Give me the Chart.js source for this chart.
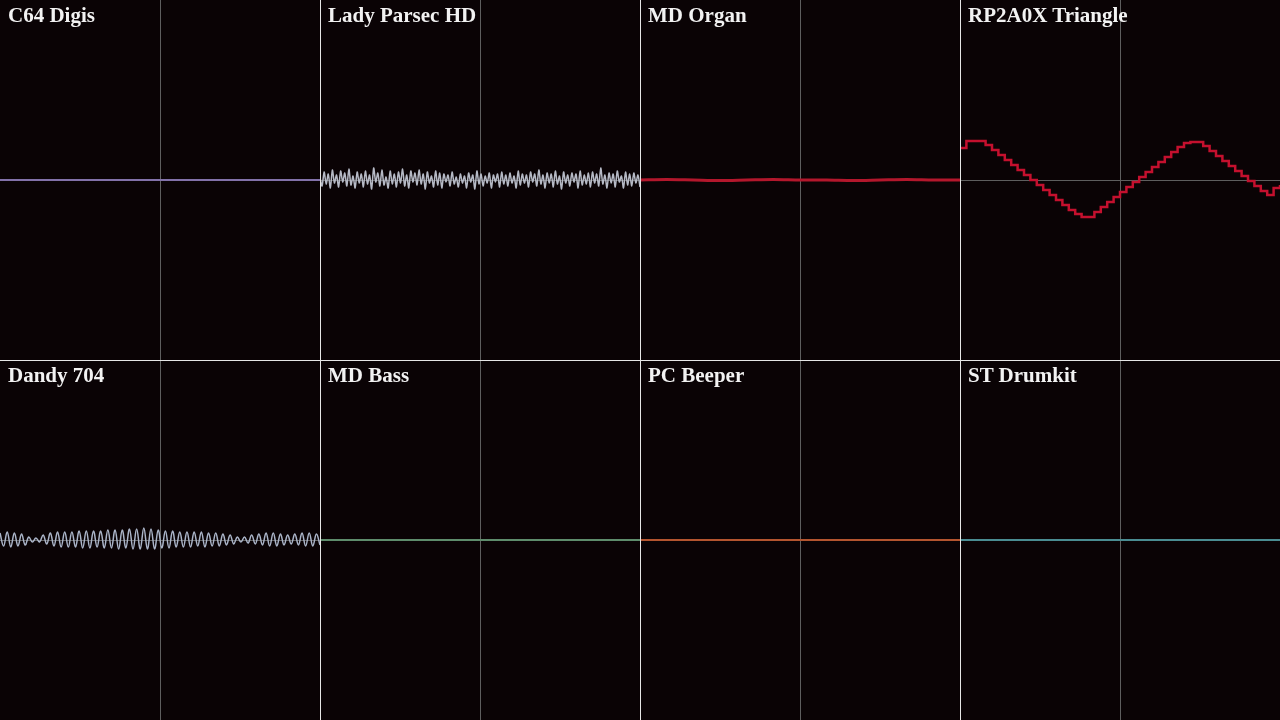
<!DOCTYPE html>
<html>
<head>
<meta charset="utf-8">
<script src="https://cdn.jsdelivr.net/npm/chart.js@4.4.1/dist/chart.umd.min.js"></script>
<style>
  html, body { margin: 0; padding: 0; background: #0a0305; }
  #scope { position: relative; width: 1280px; height: 720px; overflow: hidden; }
  .panel { position: absolute; width: 320px; height: 360px; }
  .panel canvas { display: block; }
  .title {
    position: absolute; left: 8px; top: 3px;
    font-family: "Liberation Serif", "DejaVu Serif", serif;
    font-weight: bold; font-size: 21px; color: #f2f2f2;
    pointer-events: none; z-index: 2;
  }
  .divider { position: absolute; background: #e6e6e6; z-index: 3; }
</style>
</head>
<body>
<div id="scope"></div>
<script>
// Títulos de cada canal
const channelNames = ['C64 Digis', 'Lady Parsec HD', 'MD Organ', 'RP2A0X Triangle',
  'Dandy 704', 'MD Bass', 'PC Beeper', 'ST Drumkit'];

// Colores de cada onda
const channelColors = ['#8272aa', '#b6bac6', '#b3172c', '#c4102e',
  '#aab4c8', '#5e8c6c', '#b4552f', '#4a8c92'];

// Muestras (desplazamiento vertical en px respecto al centro, positivo = arriba)
const c64Wave = [0, 0, 0, 0, 0, 0, 0, 0, 0];

const ladyWave = [2, -6, 8, -4, 6, -8, 10, -3, 5, -7, 9, -2, 7, -6, 11, -5, 4, -8, 8, -3,
  6, -7, 9, -4, 5, -9, 12, -2, 7, -6, 10, -5, 3, -8, 9, -4, 6, -7, 8, -3,
  11, -6, 5, -8, 9, -2, 7, -5, 10, -4, 6, -9, 8, -3, 4, -7, 9, -5, 7, -8,
  6, -2, 5, -6, 8, -4, 3, -7, 6, -3, 4, -8, 7, -2, 5, -9, 9, -4, 6, -6,
  4, -3, 7, -8, 5, -2, 6, -7, 8, -4, 5, -6, 7, -3, 4, -8, 9, -5, 6, -3,
  5, -7, 8, -2, 6, -6, 10, -4, 5, -8, 7, -3, 6, -7, 9, -4, 4, -9, 8, -3,
  5, -6, 7, -2, 6, -8, 9, -5, 5, -4, 7, -7, 8, -3, 6, -6, 12, -4, 5, -8,
  7, -3, 6, -7, 9, -2, 4, -8, 8, -5, 6, -6, 7, -3, 5, -7];

const organWave = [0, 0.5, 0, -0.5, 0, 0.5, 0, 0, -0.5, 0, 0.5, 0, 0];

const triangleWave = [32, 39, 39, 39, 35, 30, 25, 20, 15, 10, 5, 0, -5, -10, -15, -20, -25, -30, -34,
  -37, -37, -32, -27, -22, -17, -12, -7, -2, 3, 8, 13, 18, 23, 28, 33, 37,
  38, 38, 34, 29, 24, 19, 14, 9, 4, -1, -6, -11, -15, -8, -5];

const dandyWave = [7, -6, 8, -7, 7, -6, 6, -5, 3, -2, 2, -2, 5, -4, 7, -6, 8, -7, 8, -7,
  8, -7, 9, -8, 9, -8, 9, -7, 9, -8, 10, -8, 10, -9, 10, -8, 11, -9, 11, -9,
  12, -9, 11, -9, 10, -8, 9, -8, 9, -7, 8, -7, 8, -7, 8, -6, 8, -7, 7, -6,
  7, -6, 6, -5, 5, -4, 3, -2, 3, -3, 5, -4, 6, -5, 7, -6, 7, -6, 6, -5,
  5, -4, 6, -5, 7, -6, 7, -6, 6, -5];

const bassWave = [0, 0, 0, 0, 0, 0, 0, 0, 0];
const beeperWave = [0, 0, 0, 0, 0, 0, 0, 0, 0];
const drumWave = [0, 0, 0, 0, 0, 0, 0, 0, 0];

const channelWaves = [c64Wave, ladyWave, organWave, triangleWave,
  dandyWave, bassWave, beeperWave, drumWave];

// Estilo de trazo por canal
const channelStyle = [
  { width: 2, tension: 0, stepped: false },
  { width: 1.5, tension: 0.25, stepped: false },
  { width: 3, tension: 0.3, stepped: false },
  { width: 2.5, tension: 0, stepped: true },
  { width: 1.5, tension: 0.4, stepped: false },
  { width: 2, tension: 0, stepped: false },
  { width: 2, tension: 0, stepped: false },
  { width: 2, tension: 0, stepped: false }
];

const PANEL_W = 320;
const PANEL_H = 360;
const HALF = 180;
const CENTER_GRID = '#5e5e5e';

const scope = document.getElementById('scope');

function centerGrid(center) {
  return ctx => (ctx.tick && ctx.tick.value === center ? CENTER_GRID : 'rgba(0,0,0,0)');
}

function createScope(i) {
  const panel = document.createElement('div');
  panel.className = 'panel';
  panel.style.left = (i % 4) * PANEL_W + 'px';
  panel.style.top = Math.floor(i / 4) * PANEL_H + 'px';

  const title = document.createElement('div');
  title.className = 'title';
  title.textContent = channelNames[i];
  panel.appendChild(title);

  const canvas = document.createElement('canvas');
  canvas.width = PANEL_W;
  canvas.height = PANEL_H;
  panel.appendChild(canvas);
  scope.appendChild(panel);

  const wave = channelWaves[i];
  const style = channelStyle[i];
  const points = wave.map((v, k) => ({ x: k / (wave.length - 1), y: v }));

  return new Chart(canvas.getContext('2d'), {
    type: 'line',
    data: {
      datasets: [{
        data: points,
        borderColor: channelColors[i],
        borderWidth: style.width,
        tension: style.tension,
        stepped: style.stepped,
        pointRadius: 0,
        fill: false
      }]
    },
    options: {
      responsive: false,
      animation: false,
      layout: { padding: 0 },
      plugins: { legend: { display: false }, tooltip: { enabled: false } },
      scales: {
        x: {
          type: 'linear', min: 0, max: 1,
          ticks: { display: false, stepSize: 0.5 },
          border: { display: false },
          grid: { drawTicks: false, color: centerGrid(0.5), lineWidth: 1 }
        },
        y: {
          min: -HALF, max: HALF,
          ticks: { display: false, stepSize: HALF },
          border: { display: false },
          grid: { drawTicks: false, color: centerGrid(0), lineWidth: 1 }
        }
      }
    }
  });
}

channelNames.forEach((_, i) => createScope(i));

// Líneas divisorias entre paneles
[320, 640, 960].forEach(x => {
  const d = document.createElement('div');
  d.className = 'divider';
  d.style.cssText += `left:${x}px;top:0;width:1px;height:720px;`;
  scope.appendChild(d);
});
const h = document.createElement('div');
h.className = 'divider';
h.style.cssText += 'left:0;top:360px;width:1280px;height:1px;';
scope.appendChild(h);
</script>
</body>
</html>
